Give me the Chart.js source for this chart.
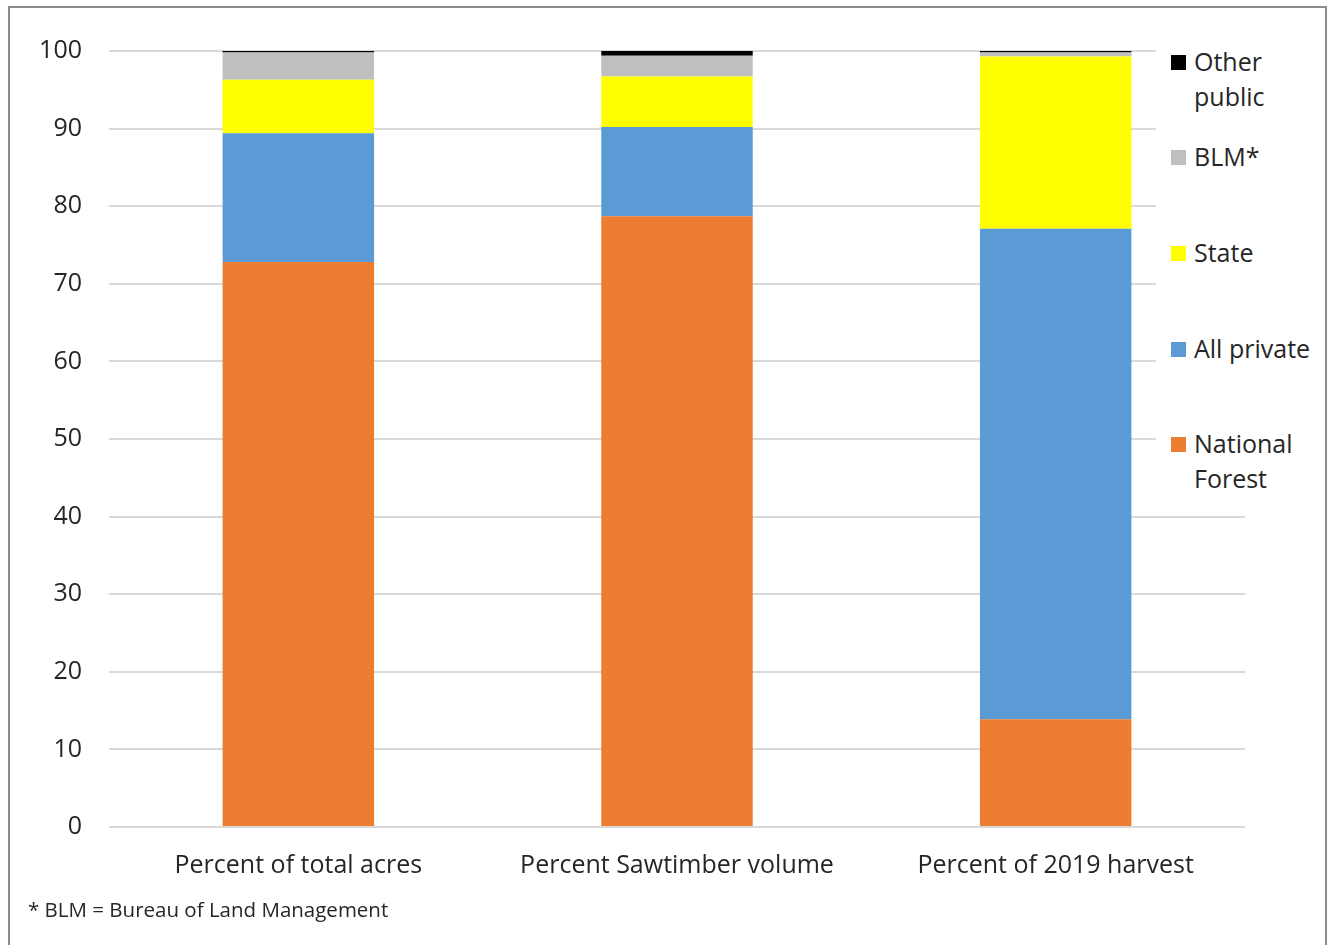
<!DOCTYPE html>
<html>
<head>
<meta charset="utf-8">
<script src="https://cdn.jsdelivr.net/npm/chart.js@4/dist/chart.umd.min.js"></script>
<style>
  html, body { margin: 0; padding: 0; background: #fff; }
  #wrap { position: relative; width: 1336px; height: 945px; overflow: hidden; }
  #frame { position: absolute; left: 8px; top: 6px; width: 1319px; height: 950px; border: 2px solid #8c8c8c; box-sizing: border-box; }
  canvas { position: absolute; left: 0; top: 0; }
  #legendBox { position: absolute; left: 1156px; top: 40px; width: 168px; height: 462px; background: #fff; }
  .legend { position: absolute; left: 1171px; font-family: "Open Sans", "Noto Sans", sans-serif; font-size: 25px; color: #262626; line-height: 35px; }
  .legend .sw { position: absolute; left: 0; top: 11px; width: 15px; height: 15px; }
  .legend .tx { position: absolute; left: 23px; top: 0; white-space: nowrap; }
  #note { position: absolute; left: 28px; top: 895px; font-family: "Open Sans", "Noto Sans", sans-serif; font-size: 20.5px; color: #262626; white-space: nowrap; }
</style>
</head>
<body>
<div id="wrap">
  <canvas id="chart" width="1336" height="945"></canvas>
  <div id="frame"></div>
  <div id="legendBox"></div>
  <div id="legend"></div>
  <div id="note">* BLM = Bureau of Land Management</div>
</div>
<script>
const categories = ["Percent of total acres", "Percent Sawtimber volume", "Percent of 2019 harvest"];

const nationalForest = [72.8, 78.7, 13.9];
const allPrivate = [16.6, 11.5, 63.2];
const state = [6.9, 6.5, 22.2];
const blm = [3.5, 2.7, 0.5];
const otherPublic = [0.2, 0.6, 0.2];

const yTicks = [0, 10, 20, 30, 40, 50, 60, 70, 80, 90, 100];

const colors = {
  national: "#ed7d31",
  private: "#5b9bd5",
  state: "#ffff00",
  blm: "#bfbfbf",
  other: "#000000",
  grid: "#d9d9d9",
  text: "#262626",
};

const font = '"Open Sans", "Noto Sans", sans-serif';

function dataset(label, data, color) {
  return { label, data, backgroundColor: color, borderWidth: 0 };
}

const datasets = [
  dataset("National Forest", nationalForest, colors.national),
  dataset("All private", allPrivate, colors.private),
  dataset("State", state, colors.state),
  dataset("BLM*", blm, colors.blm),
  dataset("Other public", otherPublic, colors.other),
];

new Chart(document.getElementById("chart"), {
  type: "bar",
  data: { labels: categories, datasets },
  options: {
    responsive: false,
    animation: false,
    layout: { padding: { left: 0, right: 91, top: 51, bottom: 0 } },
    datasets: { bar: { barPercentage: 0.4, categoryPercentage: 1 } },
    plugins: { legend: { display: false }, tooltip: { enabled: false } },
    scales: {
      x: {
        stacked: true,
        afterFit: (axis) => { axis.height = 118; },
        grid: { display: false },
        border: { display: false },
        ticks: { color: colors.text, font: { family: font, size: 25 }, padding: 16 },
      },
      y: {
        stacked: true,
        min: 0,
        max: 100,
        afterBuildTicks: (axis) => { axis.ticks = yTicks.map((v) => ({ value: v })); },
        afterFit: (axis) => { axis.width = 109; },
        grid: { color: colors.grid, lineWidth: 2, drawTicks: false },
        border: { display: false },
        ticks: { color: colors.text, font: { family: font, size: 25 }, padding: 27 },
      },
    },
  },
});

const legendItems = [
  { label: ["Other", "public"], color: colors.other, top: 44 },
  { label: ["BLM*"], color: colors.blm, top: 139 },
  { label: ["State"], color: colors.state, top: 235 },
  { label: ["All private"], color: colors.private, top: 331 },
  { label: ["National", "Forest"], color: colors.national, top: 426 },
];

document.getElementById("legend").innerHTML = legendItems
  .map(
    (item) => `
      <div class="legend" style="top:${item.top}px">
        <div class="sw" style="background:${item.color}"></div>
        <div class="tx">${item.label.join("<br>")}</div>
      </div>`,
  )
  .join("");
</script>
</body>
</html>
